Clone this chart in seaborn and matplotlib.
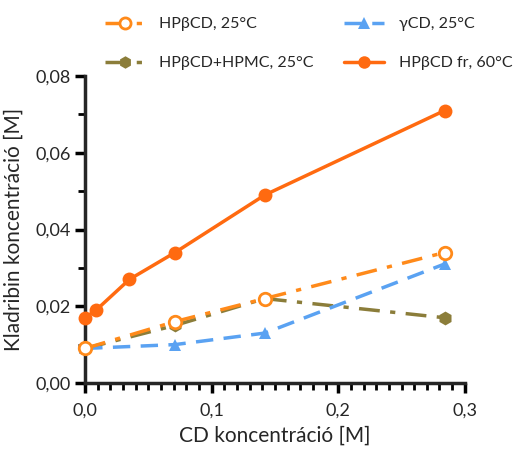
import numpy as np
import pandas as pd
import matplotlib
matplotlib.use('Agg')
import matplotlib.pyplot as plt
from matplotlib.ticker import MultipleLocator, FuncFormatter
from matplotlib.lines import Line2D
import seaborn as sns

# data
x_25 = [0.0, 0.071, 0.142, 0.284]
hpb_25 = [0.009, 0.016, 0.022, 0.034]
gcd_25 = [0.009, 0.010, 0.013, 0.031]
hpmc_25 = [0.009, 0.015, 0.022, 0.017]
x_60 = [0.0, 0.0087, 0.035, 0.071, 0.142, 0.284]
hpb_fr_60 = [0.017, 0.019, 0.027, 0.034, 0.049, 0.071]

labels = ["HPβCD, 25°C", "γCD, 25°C", "HPβCD+HPMC, 25°C", "HPβCD fr, 60°C"]

df = pd.concat([
    pd.DataFrame({"x": x_25, "y": hpb_25, "s": labels[0]}),
    pd.DataFrame({"x": x_25, "y": gcd_25, "s": labels[1]}),
    pd.DataFrame({"x": x_25, "y": hpmc_25, "s": labels[2]}),
    pd.DataFrame({"x": x_60, "y": hpb_fr_60, "s": labels[3]}),
])

sns.set_style("ticks")
plt.rcParams['font.family'] = ['Lato', 'DejaVu Sans']

styles = {
    labels[0]: dict(color="#FF8A1A", marker="o", ls=(0, (6, 3, 1.5, 3)), mfc="white", mew=2, ms=9, zorder=3),
    labels[1]: dict(color="#5AA2F2", marker="^", ls=(0, (5, 3)), mfc=None, mew=0, ms=9, zorder=2),
    labels[2]: dict(color="#8B7D3A", marker="h", ls=(0, (6, 3, 1.5, 3)), mfc=None, mew=0, ms=10, zorder=2),
    labels[3]: dict(color="#FF6A10", marker="o", ls="-", mfc=None, mew=0, ms=10, zorder=4),
}

fig = plt.figure(figsize=(5.13, 4.5), dpi=100)
ax = fig.add_axes([0.166, 0.149, 0.74, 0.682])

for lab in [labels[2], labels[1], labels[0], labels[3]]:
    st = styles[lab]
    sub = df[df["s"] == lab]
    sns.lineplot(data=sub, x="x", y="y", ax=ax, color=st["color"], lw=2.5,
                 linestyle=st["ls"], marker=st["marker"], markersize=st["ms"],
                 markerfacecolor=st["mfc"] if st["mfc"] else st["color"],
                 markeredgecolor=st["color"], markeredgewidth=st["mew"],
                 zorder=st["zorder"], clip_on=False, legend=False)

# column-wise fill: row 1 = labels[0], labels[1]; row 2 = labels[2], labels[3]
order = [labels[0], labels[2], labels[1], labels[3]]
handles = []
for lab in order:
    st = styles[lab]
    handles.append(Line2D([], [], color=st["color"], lw=2.5, linestyle=st["ls"], marker=st["marker"],
                          markersize=st["ms"] - 1,
                          markerfacecolor=st["mfc"] if st["mfc"] else st["color"],
                          markeredgecolor=st["color"], markeredgewidth=st["mew"]))

ax.set_xlim(0, 0.3)
ax.set_ylim(0, 0.08)
ax.xaxis.set_major_locator(MultipleLocator(0.1))
ax.xaxis.set_minor_locator(MultipleLocator(0.01))
ax.yaxis.set_major_locator(MultipleLocator(0.02))
ax.yaxis.set_minor_locator(MultipleLocator(0.01))
ax.xaxis.set_major_formatter(FuncFormatter(lambda v, p: f"{v:.1f}".replace(".", ",")))
ax.yaxis.set_major_formatter(FuncFormatter(lambda v, p: f"{v:.2f}".replace(".", ",")))
sns.despine(ax=ax)
for sp in ["left", "bottom"]:
    ax.spines[sp].set_linewidth(2.5)
ax.tick_params(which="major", length=7, width=2.5, labelsize=13, color="black")
ax.tick_params(axis="x", which="major", pad=7)
ax.tick_params(which="minor", length=5, width=2, color="black")
ax.set_xlabel("CD koncentráció [M]", fontsize=15, labelpad=5)
ax.set_ylabel("Kladribin koncentráció [M]", fontsize=15, labelpad=8)

fig.legend(handles=handles, labels=order, ncol=2, loc="upper left", bbox_to_anchor=(0.205, 0.962),
           frameon=False, fontsize=11.5, handlelength=2.5, handletextpad=0.9, columnspacing=1.9,
           labelspacing=1.55, borderpad=0, borderaxespad=0)

plt.savefig("out.png", dpi=100)
